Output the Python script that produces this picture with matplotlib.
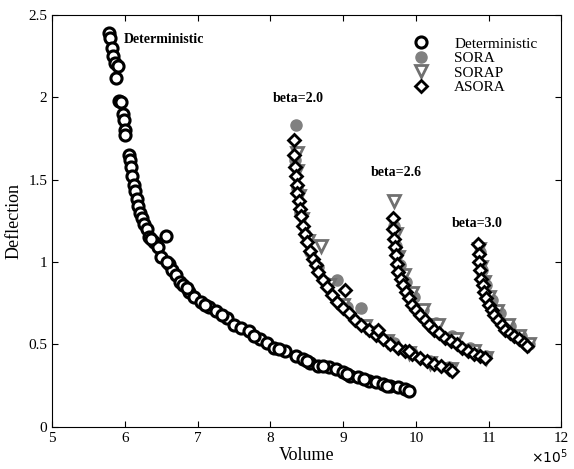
import numpy as np
import matplotlib
matplotlib.use("Agg")
import matplotlib.pyplot as plt

plt.rcParams['font.family'] = ['Liberation Serif', 'DejaVu Serif']

# volume in units of 1e5, deflection
det_x = [5.78, 5.80, 5.82, 5.84, 5.86, 5.90, 5.88, 5.92, 5.95, 5.97, 5.98, 6.00, 6.00,
         6.05, 6.07, 6.08, 6.10, 6.12, 6.14, 6.16, 6.18, 6.20, 6.24, 6.26, 6.30, 6.33,
         6.40, 6.45, 6.50, 6.56, 6.60, 6.65, 6.70, 6.75, 6.80, 6.88, 6.95, 7.05, 7.15,
         7.25, 7.40, 7.50, 7.60, 7.70, 7.85, 7.95, 8.05, 8.20, 8.35, 8.45, 8.55, 8.65,
         8.80, 8.90, 9.00, 9.10, 9.20, 9.35, 9.45, 9.55, 9.65, 9.75, 9.85, 9.90,
         6.36, 6.58, 6.85, 7.10, 7.33, 7.78, 8.12, 8.50, 8.72, 9.05, 9.28, 9.60]
det_y = [2.39, 2.36, 2.30, 2.25, 2.21, 2.19, 2.12, 1.98, 1.97, 1.90, 1.86, 1.80, 1.77,
         1.65, 1.62, 1.58, 1.52, 1.47, 1.43, 1.38, 1.34, 1.30, 1.27, 1.23, 1.20, 1.15,
         1.12, 1.09, 1.03, 1.16, 0.99, 0.95, 0.92, 0.88, 0.86, 0.82, 0.79, 0.76, 0.73,
         0.70, 0.66, 0.62, 0.60, 0.58, 0.53, 0.51, 0.48, 0.46, 0.43, 0.41, 0.39, 0.37,
         0.36, 0.35, 0.33, 0.31, 0.30, 0.28, 0.27, 0.26, 0.25, 0.24, 0.23, 0.22,
         1.14, 1.00, 0.84, 0.74, 0.68, 0.55, 0.47, 0.40, 0.37, 0.32, 0.29, 0.25]

# SORA
sora_x = [8.35, 8.34, 8.37, 8.41, 8.47, 8.55, 8.65, 8.78, 8.92, 9.05, 9.24, 9.45, 9.70,
          9.95, 10.20, 10.45,
          9.70, 9.73, 9.78, 9.86, 9.97, 10.10, 10.28, 10.50, 10.75, 10.96,
          10.88, 10.91, 10.96, 11.04, 11.15, 11.30, 11.45, 11.55]
sora_y = [1.83, 1.62, 1.45, 1.30, 1.17, 1.06, 0.97, 0.87, 0.89, 0.73, 0.72, 0.58, 0.51,
          0.45, 0.40, 0.36,
          1.22, 1.10, 0.98, 0.88, 0.79, 0.71, 0.63, 0.55, 0.48, 0.43,
          1.06, 0.95, 0.86, 0.77, 0.69, 0.61, 0.55, 0.50]

# SORAP
sorap_x = [8.36, 8.36, 8.39, 8.44, 8.52, 8.69, 8.80, 9.00, 9.30, 9.60, 9.90, 10.20, 10.48,
           9.70, 9.72, 9.76, 9.83, 9.95, 10.10, 10.30, 10.55, 10.80, 10.97,
           10.87, 10.89, 10.93, 11.01, 11.12, 11.27, 11.42, 11.55]
sorap_y = [1.66, 1.55, 1.40, 1.26, 1.13, 1.10, 0.86, 0.74, 0.61, 0.52, 0.45, 0.39, 0.35,
           1.37, 1.17, 1.03, 0.92, 0.81, 0.71, 0.62, 0.53, 0.46, 0.42,
           1.08, 0.97, 0.88, 0.79, 0.70, 0.62, 0.55, 0.50]

# ASORA
asora_x = [8.33, 8.33, 8.34, 8.35, 8.36, 8.37, 8.39, 8.40, 8.42, 8.45, 8.48, 8.50, 8.54,
           8.58, 8.62, 8.66, 8.72, 8.78, 8.85, 8.92, 9.00, 9.08, 9.16, 9.25, 9.35, 9.45,
           9.55, 9.65, 9.75, 9.85, 9.95, 10.05, 10.15, 10.25, 10.35, 10.45, 10.50,
           9.02, 9.48, 9.91,
           9.68, 9.69, 9.70, 9.71, 9.72, 9.74, 9.76, 9.79, 9.82, 9.86, 9.90, 9.95, 10.00,
           10.06, 10.12, 10.18, 10.25, 10.32, 10.40, 10.48, 10.56, 10.64, 10.72, 10.80,
           10.88, 10.95,
           10.86, 10.87, 10.87, 10.88, 10.90, 10.92, 10.94, 10.97, 11.00, 11.04, 11.08,
           11.13, 11.18, 11.23, 11.29, 11.35, 11.42, 11.48, 11.53]
asora_y = [1.74, 1.65, 1.58, 1.52, 1.47, 1.42, 1.37, 1.32, 1.28, 1.22, 1.17, 1.12, 1.07,
           1.02, 0.98, 0.94, 0.89, 0.85, 0.80, 0.76, 0.72, 0.69, 0.65, 0.62, 0.59, 0.56,
           0.53, 0.50, 0.48, 0.46, 0.44, 0.42, 0.40, 0.38, 0.37, 0.35, 0.34,
           0.83, 0.59, 0.46,
           1.27, 1.20, 1.14, 1.09, 1.04, 0.99, 0.94, 0.90, 0.86, 0.82, 0.78, 0.74, 0.71,
           0.68, 0.65, 0.62, 0.59, 0.57, 0.54, 0.52, 0.50, 0.48, 0.46, 0.44, 0.43, 0.42,
           1.11, 1.05, 1.00, 0.95, 0.90, 0.86, 0.82, 0.78, 0.74, 0.71, 0.68, 0.65, 0.62,
           0.59, 0.57, 0.55, 0.53, 0.51, 0.49]

labels = ['Deterministic', 'beta=2.0', 'beta=2.6', 'beta=3.0']
label_pos = [(5.98, 2.33), (8.03, 1.97), (9.38, 1.52), (10.50, 1.21)]

fig = plt.figure(figsize=(5.74, 4.69), dpi=100)
ax = fig.add_axes([0.091, 0.090, 0.887, 0.878])

ax.plot(det_x, det_y, 'o', ms=8, mfc='white', mec='black', mew=2.2, label='Deterministic')
ax.plot(sora_x, sora_y, 'o', ms=8, mfc='#808080', mec='#808080', label='SORA')
ax.plot(sorap_x, sorap_y, 'v', ms=8, mfc='white', mec='#707070', mew=2.0, label='SORAP')
ax.plot(asora_x, asora_y, 'D', ms=6.5, mfc='white', mec='black', mew=2.0, label='ASORA')

for t, (x, y) in zip(labels, label_pos):
    ax.text(x, y, t, fontsize=10, fontweight='bold')

ax.set_xlim(5, 12)
ax.set_ylim(0, 2.5)
ax.set_xticks(range(5, 13))
ax.set_yticks([0, 0.5, 1, 1.5, 2, 2.5])
ax.set_yticklabels(['0', '0.5', '1', '1.5', '2', '2.5'])
ax.tick_params(direction='in', top=True, right=True, labelsize=11, length=4)
ax.set_xlabel('Volume', fontsize=13, labelpad=2)
ax.set_ylabel('Deflection', fontsize=13, labelpad=4)
fig.text(0.925, 0.012, r'$\times10^5$', fontsize=10)

ax.legend(loc='upper right', frameon=False, fontsize=11, bbox_to_anchor=(0.98, 0.98),
          handletextpad=1.2, labelspacing=0.05)

fig.savefig('out.png', dpi=100)
